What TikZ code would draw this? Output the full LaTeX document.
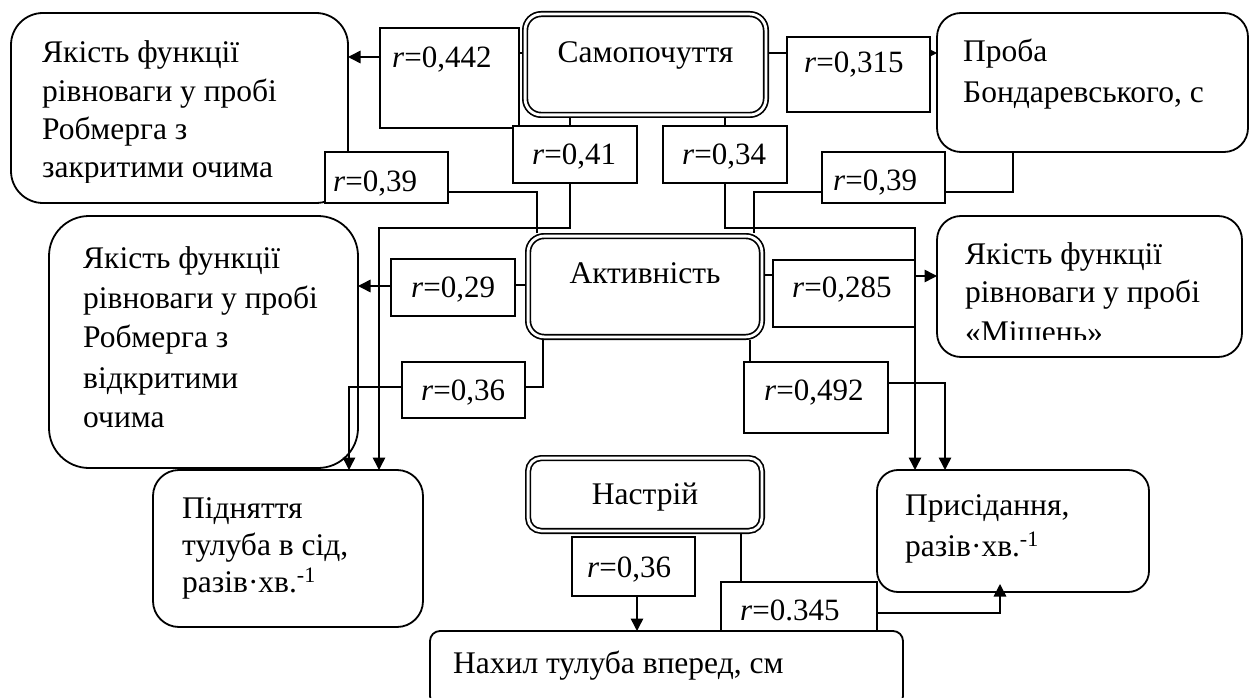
\documentclass[tikz,border=0pt]{standalone}
\usepackage{fontspec}
\setmainfont{Liberation Serif}
\usetikzlibrary{arrows.meta}
\pgfdeclarelayer{bg}
\pgfdeclarelayer{mid}
\pgfsetlayers{bg,mid,main}
\newcommand\boxtext[2]{\parbox[t]{600pt}{\fontsize{31.5}{#1}\selectfont\raggedright #2}}
\begin{document}
\begin{tikzpicture}[x=1pt,y=-1pt,
  bigbox/.style={draw, line width=1.8pt, fill=white, rectangle, inner sep=0pt, outer sep=0pt, anchor=north west},
  dblbox/.style={draw, double, double distance=2.8pt, line width=1.7pt, fill=white, rectangle, rounded corners=16pt, inner sep=0pt, outer sep=3.1pt, anchor=north west},
  rbox/.style={draw, line width=1.6pt, fill=white, rectangle, inner sep=0pt, outer sep=0pt, anchor=north west},
  txt/.style={anchor=base west, inner sep=0pt},
  ctxt/.style={anchor=base, inner sep=0pt, font=\fontsize{31.5}{38}\selectfont},
  rtxt/.style={anchor=base west, inner sep=0pt, font=\fontsize{31}{38}\selectfont},
  conn/.style={line width=1.5pt},
  arr/.style={conn, -{Triangle[length=12.5pt,width=12.5pt]}}]
\useasboundingbox (0,0) rectangle (1254,698);

\begin{pgfonlayer}{bg}
% rounded boxes
\node[bigbox, rounded corners=32pt, minimum width=337pt, minimum height=190pt] (yak1) at (11,13) {};
\node[bigbox, rounded corners=40pt, minimum width=309pt, minimum height=252pt] (yak2) at (49,216) {};
\node[bigbox, rounded corners=24pt, minimum width=311pt, minimum height=139pt] (proba) at (937,13) {};
\node[bigbox, rounded corners=24pt, minimum width=305pt, minimum height=141pt] (mish) at (937,216) {};
\node[bigbox, rounded corners=26pt, minimum width=270pt, minimum height=157pt] (pidn) at (153,470) {};
\node[bigbox, rounded corners=21pt, minimum width=272pt, minimum height=122pt] (pris) at (877,470) {};
\node[bigbox, rounded corners=10pt, minimum width=473pt, minimum height=75pt] (nakh) at (430,631) {};
% double boxes
\node[dblbox, minimum width=240.8pt, minimum height=100.8pt] (samo) at (522,11) {};
\node[dblbox, minimum width=233.8pt, minimum height=100.8pt] (akt) at (525,233) {};
\node[dblbox, rounded corners=13pt, minimum width=233.8pt, minimum height=72.8pt] (nast) at (525,455) {};
% texts of boxes
\begin{scope}
  \clip (11,13) rectangle (348,183);
  \node[txt] (tyak1) at (42,63) {\boxtext{38.3}{Якість функції\\рівноваги у пробі\\Робмерга з\\закритими очима}};
\end{scope}
\node[txt] (tyak2) at (83,268) {\boxtext{40}{Якість функції\\рівноваги у пробі\\Робмерга з\\відкритими\\очима}};
\node[txt] (tproba) at (963,62) {\boxtext{41}{Проба\\Бондаревського, с}};
\begin{scope}
  \clip (937,216) rectangle (1242,339);
  \node[txt] (tmish) at (965,264) {\boxtext{39}{Якість функції\\рівноваги у пробі\\«Мішень»}};
\end{scope}
\node[txt] (tpidn) at (182,518) {\boxtext{37}{Підняття\\тулуба в сід,\\разів·хв.\textsuperscript{-1}}};
\node[txt] (tpris) at (905,515) {\boxtext{41}{Присідання,\\разів·хв.\textsuperscript{-1}}};
\node[txt] (tnakh) at (453,673) {\boxtext{38}{Нахил тулуба вперед, см}};
\node[ctxt] (tsamo) at (645.5,63) {Самопочуття};
\node[ctxt] (takt) at (645,283) {Активність};
\node[ctxt] (tnast) at (645,504) {Настрій};
\end{pgfonlayer}

% correlation boxes (top layer)
\node[rbox, minimum width=139pt, minimum height=100pt] (r442) at (380,28) {};
\node[rbox, minimum width=143pt, minimum height=75pt] (r315) at (787,37) {};
\node[rbox, minimum width=124pt, minimum height=57pt] (r41) at (513,126) {};
\node[rbox, minimum width=124pt, minimum height=57pt] (r34) at (663,126) {};
\node[rbox, minimum width=123pt, minimum height=51pt] (r39a) at (325,152) {};
\node[rbox, minimum width=123pt, minimum height=51pt] (r39b) at (822,152) {};
\node[rbox, minimum width=124pt, minimum height=57pt] (r29) at (391,259) {};
\node[rbox, minimum width=142pt, minimum height=67pt] (r285) at (773,260) {};
\node[rbox, minimum width=123pt, minimum height=56pt] (r36a) at (402,362) {};
\node[rbox, minimum width=144pt, minimum height=71pt] (r492) at (744,362) {};
\node[rbox, minimum width=123pt, minimum height=59pt] (r36b) at (572,537) {};
\node[rbox, minimum width=156pt, minimum height=49pt] (r345) at (721,582) {};

\node[rtxt] (tr442) at (392,68) {\textit{r}=0,442};
\node[rtxt] (tr315) at (804,73) {\textit{r}=0,315};
\node[rtxt] (tr41) at (532,165) {\textit{r}=0,41};
\node[rtxt] (tr34) at (682,165) {\textit{r}=0,34};
\node[rtxt] (tr39a) at (333,192) {\textit{r}=0,39};
\node[rtxt] (tr39b) at (833,191) {\textit{r}=0,39};
\node[rtxt] (tr29) at (411,297) {\textit{r}=0,29};
\node[rtxt] (tr285) at (792,297) {\textit{r}=0,285};
\node[rtxt] (tr36a) at (421,400) {\textit{r}=0,36};
\node[rtxt] (tr492) at (764,400) {\textit{r}=0,492};
\node[rtxt] (tr36b) at (587,577) {\textit{r}=0,36};
\node[rtxt] (tr345) at (740,620) {\textit{r}=0.345};

% connectors (middle layer)
\begin{pgfonlayer}{mid}
\draw[arr]  (r442.west |- 0,57) -- (yak1.east |- 0,57);
\draw[conn] (samo.west |- 0,53) -- (r442.east |- 0,53);
\draw[conn] (samo.east |- 0,53) -- (r315.west |- 0,53);
\draw[arr]  (r315.east |- 0,53) -- (proba.west |- 0,53);
\draw[conn] (samo.south -| 570,0) -- (r41.north -| 570,0);
\draw[conn] (samo.south -| 725,0) -- (r34.north -| 725,0);
\draw[arr]  (r41.south -| 570,0) |- (379,228) -- (pidn.north -| 379,0);
\draw[conn] (r39a.east |- 0,192) -| (akt.north -| 537,0);
\draw[arr]  (r34.south -| 725,0) |- (915,228) -- (pris.north -| 915,0);
\draw[conn] (r39b.west |- 0,192) -| (akt.north -| 754,0);
\draw[conn] (r39b.east |- 0,192) -| (proba.south -| 1013,0);
\draw[arr]  (r29.west |- 0,286) -- (yak2.east |- 0,286);
\draw[conn] (akt.west |- 0,285) -- (r29.east |- 0,285);
\draw[conn] (akt.east |- 0,275) -- (r285.west |- 0,275);
\draw[arr]  (r285.east |- 0,276) -- (mish.west |- 0,276);
\draw[conn] (akt.south -| 543,0) |- (r36a.east |- 0,387);
\draw[arr]  (r36a.west |- 0,387) -| (pidn.north -| 349,0);
\draw[conn] (akt.south -| 750,0) -- (r492.north -| 750,0);
\draw[arr]  (r492.east |- 0,383) -| (pris.north -| 945,0);
\draw[arr]  (r36b.south -| 637,0) -- (nakh.north -| 637,0);
\draw[conn] (nast.south -| 741,0) -- (r345.north -| 741,0);
\draw[arr]  (r345.east |- 0,613) -| ([yshift=8pt]pris.south -| 1000,0);
\end{pgfonlayer}
\end{tikzpicture}
\end{document}
